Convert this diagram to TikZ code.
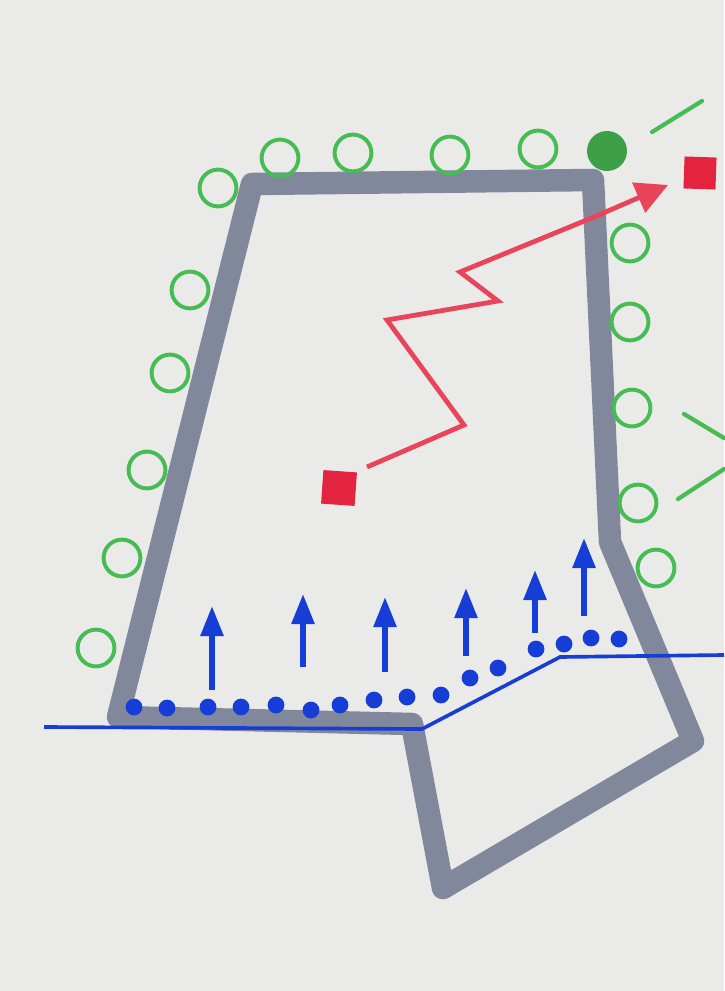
\documentclass[tikz,border=0pt]{standalone}
\usetikzlibrary{arrows.meta}
\definecolor{paper}{RGB}{234,235,232}
\definecolor{slate}{RGB}{104,112,138}
\definecolor{ringgreen}{RGB}{72,188,84}
\definecolor{markred}{RGB}{228,36,62}
\definecolor{penblue}{RGB}{22,62,214}

\begin{document}
\begin{tikzpicture}[
  x=0.025cm, y=-0.025cm,
  ring/.style={circle, draw=ringgreen, line width=2.8pt, minimum size=0.92cm, inner sep=0pt},
  solidring/.style={circle, fill=ringgreen!85!black, minimum size=1cm, inner sep=0pt},
  marker/.style={fill=markred, minimum size=0.84cm, inner sep=0pt, rotate=-4},
  wall/.style={draw=slate, opacity=0.8, line width=16pt, line join=round},
  zigzag/.style={draw=markred!85, line width=3.4pt, line join=miter, -{Triangle[width=0.8cm,length=0.8cm]}},
  ground/.style={draw=penblue, line width=2.6pt},
  grain/.style={circle, fill=penblue, minimum size=0.42cm, inner sep=0pt},
  lift/.style={draw=penblue, line width=4pt, -{Triangle[width=0.55cm,length=0.75cm]}},
  stroke/.style={draw=ringgreen, line width=3pt, line cap=round}
]
\fill[paper] (0,0) rectangle (724,991);
\useasboundingbox (0,0) rectangle (724,991);

% outline corners
\coordinate (TL) at (252,184);
\coordinate (TR) at (593,180);
\coordinate (RM) at (610,542);
\coordinate (RB) at (693,741);
\coordinate (BB) at (443,888);
\coordinate (BM) at (412,724);
\coordinate (BL) at (118,717);
\draw[wall] (TL) -- (TR) -- (RM) -- (RB) -- (BB) -- (BM) -- (BL) -- cycle;

% ground line
\coordinate (G0) at (44,727);
\coordinate (G1) at (422,729);
\coordinate (G2) at (560,657);
\coordinate (G3) at (724,655);
\draw[ground] (G0) -- (G1) -- (G2) -- (G3);

% grains along the ground
\foreach \x/\y [count=\i] in {134/707, 167/708, 208/707, 241/707, 276/705, 311/710,
    340/705, 374/700, 407/697, 441/695, 470/678, 498/668, 536/649, 564/644, 591/638, 619/639}
  \node[grain] (g\i) at (\x,\y) {};

% upward arrows
\foreach \x/\ya/\yb [count=\i] in {212/690/606, 303/667/594, 385/672/597, 466/656/588, 535/633/570, 584/616/538}
{
  \coordinate (a\i) at (\x,\ya);
  \coordinate (b\i) at (\x,\yb);
  \draw[lift] (a\i) -- (b\i);
}

% green rings round the outline
\foreach \x/\y [count=\i] in {218/188, 280/158, 353/153, 450/155, 538/149,
    190/290, 170/373, 147/470, 122/558, 96/648,
    630/243, 630/322, 632/408, 638/503, 656/568}
  \node[ring] (r\i) at (\x,\y) {};
\node[solidring] (rs) at (607,151) {};

% green strokes
\coordinate (s1a) at (652,132);
\coordinate (s1b) at (702,101);
\coordinate (s2a) at (684,414);
\coordinate (s2b) at (724,438);
\coordinate (s3a) at (678,499);
\coordinate (s3b) at (724,469);
\draw[stroke] (s1a) -- (s1b);
\draw[stroke] (s2a) -- (s2b);
\draw[stroke] (s3a) -- (s3b);

% red markers and zigzag path
\node[marker] (src) at (339,488) {};
\node[marker, minimum size=0.8cm, rotate=2] (dst) at (700,173) {};
\coordinate (z0) at (367,467);
\coordinate (z1) at (464,425);
\coordinate (z2) at (387,320);
\coordinate (z3) at (498,301);
\coordinate (z4) at (460,272);
\coordinate (z5) at (594,217);
\coordinate (z6) at (668,185);
\draw[zigzag] (z0) -- (z1) -- (z2) -- (z3) -- (z4) -- (z5) -- (z6);

\end{tikzpicture}
\end{document}
